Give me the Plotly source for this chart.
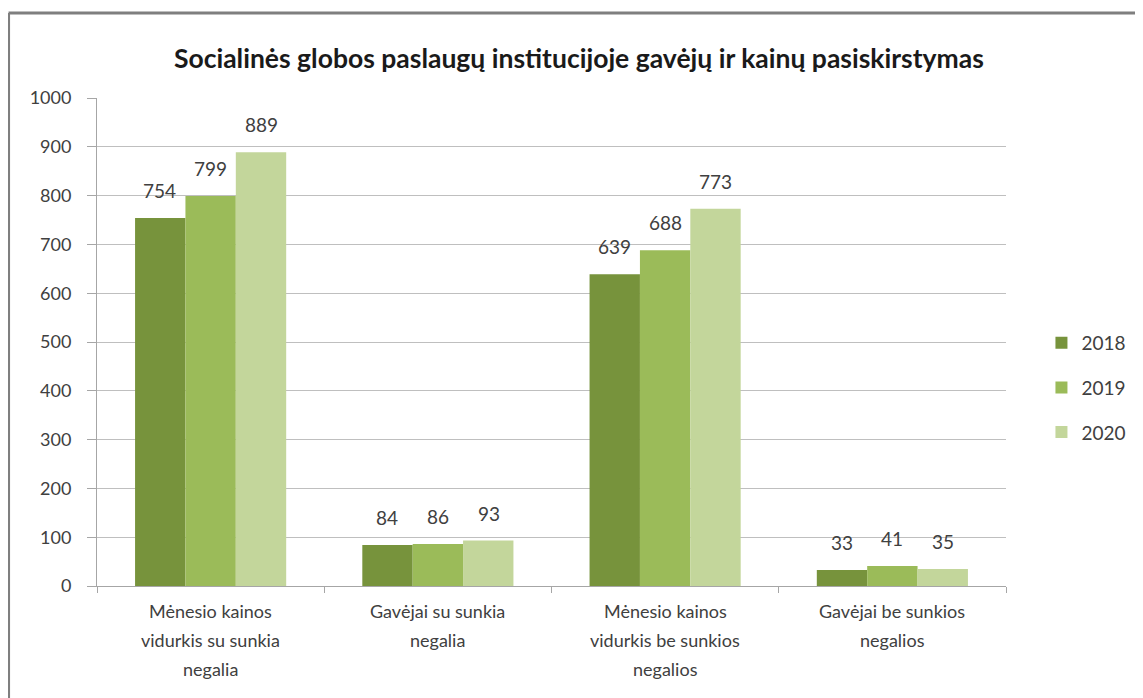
import plotly.graph_objects as go

categories = [
    "Mėnesio kainos<br>vidurkis su sunkia<br>negalia",
    "Gavėjai su sunkia<br>negalia",
    "Mėnesio kainos<br>vidurkis be sunkios<br>negalios",
    "Gavėjai be sunkios<br>negalios",
]
years = ["2018", "2019", "2020"]
values_2018 = [754, 84, 639, 33]
values_2019 = [799, 86, 688, 41]
values_2020 = [889, 93, 773, 35]
colors = ["#77933C", "#9BBB59", "#C3D69B"]

series = [values_2018, values_2019, values_2020]
cat_keys = ["c1", "c2", "c3", "c4"]

fig = go.Figure()
for year, vals, color in zip(years, series, colors):
    fig.add_trace(go.Bar(
        x=cat_keys,
        y=vals,
        name=year,
        marker_color=color,
        marker_line_width=0,
        legendgroup=year,
    ))

# data labels sit a little higher above the bars than plotly's own outside text
bar_px = 228.75 * (1 - 0.335) / 3
annotations = []
for i, vals in enumerate(series):
    for key, v in zip(cat_keys, vals):
        annotations.append(dict(
            x=key, y=v, xref="x", yref="y",
            text=str(v), showarrow=False,
            xshift=(i - 1) * bar_px, yshift=14, yanchor="bottom",
            font=dict(family="Lato", size=19, color="#404040"),
        ))

# category labels written line by line to get the wider line spacing
for key, label in zip(cat_keys, categories):
    for j, line in enumerate(label.split("<br>")):
        annotations.append(dict(
            x=key, y=0, xref="x", yref="y",
            text=line, showarrow=False,
            yshift=-(25 + 29 * j), yanchor="middle",
            font=dict(family="Lato", size=18, color="#404040"),
        ))

fig.update_layout(
    width=1135,
    height=690,
    margin=dict(l=89, r=131, t=90, b=112),
    paper_bgcolor="white",
    plot_bgcolor="white",
    barmode="group",
    bargap=0.335,
    bargroupgap=0,
    font=dict(family="Lato", size=17, color="#404040"),
    title=dict(
        text="<b>Socialinės globos paslaugų institucijoje gavėjų ir kainų pasiskirstymas</b>",
        x=0.503, xref="container", xanchor="center",
        y=0.926, yref="container", yanchor="middle",
        font=dict(family="Lato", size=26.5, color="#1a1a1a"),
    ),
    xaxis=dict(
        tickmode="array",
        tickvals=cat_keys,
        ticktext=["", "", "", ""],
        ticks="outside",
        tickson="boundaries",
        ticklen=6,
        tickcolor="#a6a6a6",
        showline=True,
        linecolor="#a6a6a6",
        linewidth=1,
        showgrid=False,
    ),
    yaxis=dict(
        range=[0, 1000],
        dtick=100,
        ticks="outside",
        ticklen=9,
        ticklabelstandoff=12,
        tickcolor="#a6a6a6",
        showline=True,
        linecolor="#a6a6a6",
        gridcolor="#bfbfbf",
        zeroline=False,
        tickfont=dict(size=18, color="#404040"),
    ),
    legend=dict(
        x=1.039, xanchor="left",
        y=0.406, yanchor="middle",
        tracegroupgap=17,
        font=dict(size=19, color="#404040"),
    ),
    annotations=annotations,
    shapes=[
        dict(type="line", xref="paper", yref="paper",
             x0=-0.0973, x1=-0.0973, y0=1.1742, y1=-0.3,
             line=dict(color="#7f7f7f", width=3)),
        dict(type="line", xref="paper", yref="paper",
             x0=-0.0973, x1=1.2, y0=1.1742, y1=1.1742,
             line=dict(color="#7f7f7f", width=3)),
    ],
)

fig.write_html("out.html")
